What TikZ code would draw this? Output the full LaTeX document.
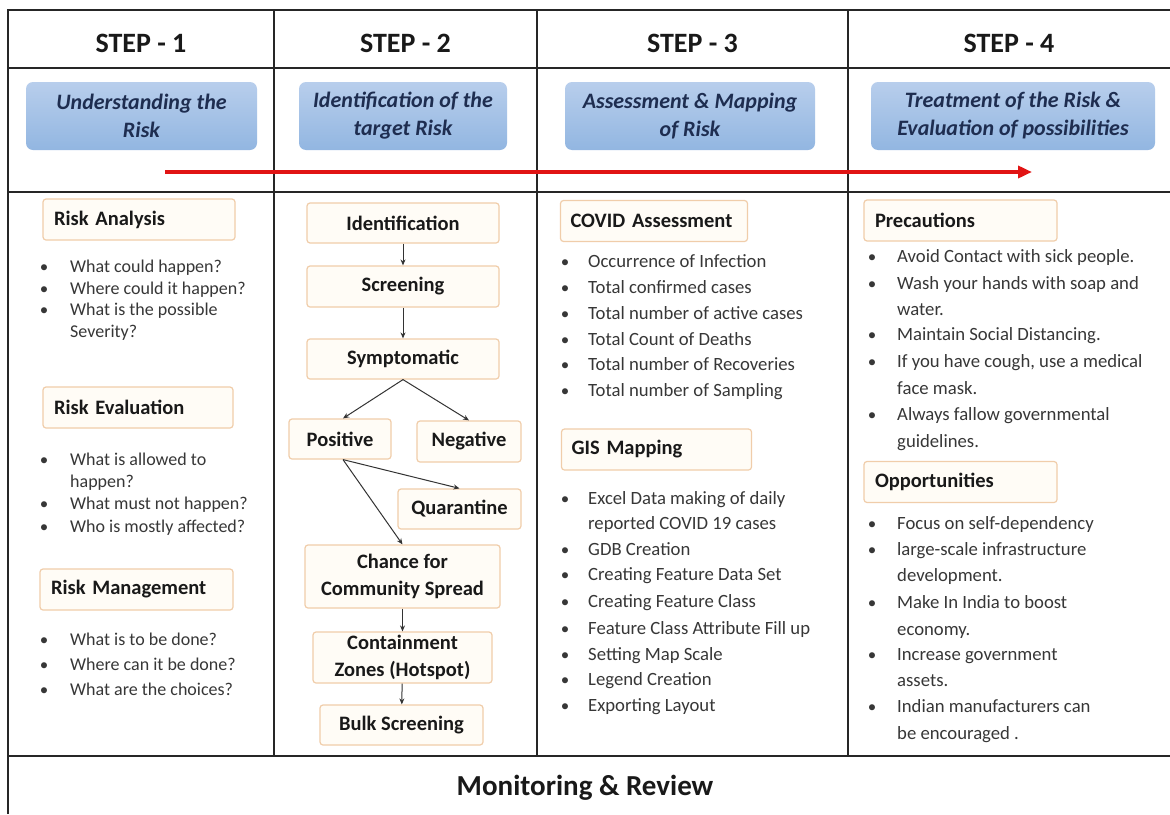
\documentclass[tikz,border=0pt]{standalone}
\usepackage{fontspec}
\setmainfont{Carlito}
\usetikzlibrary{arrows.meta}
\definecolor{hdrtop}{RGB}{184,206,236}
\definecolor{hdrbot}{RGB}{146,182,225}
\definecolor{navy}{RGB}{30,45,80}
\definecolor{boxedge}{RGB}{240,205,170}
\definecolor{boxfill}{RGB}{255,252,246}
\definecolor{txt}{RGB}{55,55,55}
\definecolor{arrred}{RGB}{225,20,20}
\newcommand\mybul[5]{\node[bul] (#1b) at (#2,#4) {\textbullet}; \node[btxt] (#1) at (#3,#4) {#5};}
\newcommand\mycont[5]{\node[btxt] (#1) at (#3,#4) {#5};}
\begin{document}
\begin{tikzpicture}[x=1pt,y=-1pt,
  frame/.style={line width=2.2pt, draw=black!85},
  steplbl/.style={font=\fontsize{28}{32}\selectfont\bfseries, text=black!90, inner sep=0pt},
  hdrbox/.style={rounded corners=7pt, top color=hdrtop, bottom color=hdrbot, draw=none,
     minimum height=68pt, font=\fontsize{22}{28}\selectfont\bfseries\itshape, text=navy, align=center},
  lbox/.style={draw=boxedge, fill=boxfill, rounded corners=3pt, line width=1.2pt,
     font=\fontsize{20.5}{27}\selectfont\bfseries, text=black!90, inner ysep=2pt},
  lboxL/.style={lbox, align=left, minimum height=41pt, inner xsep=11pt},
  fbox/.style={lbox, align=center, inner xsep=2pt},
  btxt/.style={font=\fontsize{18.7}{22}\selectfont, text=txt, inner sep=0pt, anchor=mid west},
  bul/.style={font=\fontsize{17}{22}\selectfont, text=txt, inner sep=0pt, anchor=mid},
  flow/.style={-{Stealth[length=6pt,width=5pt]}, line width=1pt, draw=black!80},
  redarr/.style={-{Triangle[length=14pt,width=12pt]}, line width=4pt, draw=arrred}
]
\useasboundingbox[fill=white] (0,0) rectangle (1170,814);

% frame
\draw[frame] (8,814) -- (8,10) -- (1170,10);
\draw[frame] (8,68) -- (1170,68);
\draw[frame] (8,192) -- (1170,192);
\draw[frame] (8,756) -- (1170,756);
\foreach \x in {274,537,848} \draw[frame] (\x,10) -- (\x,756);

% step labels
\node[steplbl] (s1) at (141,43) {STEP - 1};
\node[steplbl] (s2) at (405.5,43) {STEP - 2};
\node[steplbl] (s3) at (692.5,43) {STEP - 3};
\node[steplbl] (s4) at (1009,43) {STEP - 4};

% header boxes
\node[hdrbox, minimum width=231pt] (h1) at (141.5,116) {Understanding the\\Risk};
\node[hdrbox, minimum width=208pt] (h2) at (403,116) {Identification of the\\target Risk};
\node[hdrbox, minimum width=250pt] (h3) at (690,116) {Assessment \& Mapping\\of Risk};
\node[hdrbox, minimum width=284pt] (h4) at (1013,116) {Treatment of the Risk \&\\Evaluation of possibilities};

% red arrow
\coordinate (arrS) at (165,172);
\coordinate (arrE) at (1032,172);
\draw[redarr] (arrS) -- (arrE);

% ---------- column 1 ----------
\begin{scope}[btxt/.append style={font=\fontsize{18}{22}\selectfont}]
\node[lboxL, text width=170pt] (ra) at (139,219.5) {Risk Analysis};
\mybul{a1}{44}{70}{270}{What could happen?}
\mybul{a2}{44}{70}{292}{Where could it happen?}
\mybul{a3}{44}{70}{313}{What is the possible}
\mycont{a3c}{44}{70}{335}{Severity?}
\node[lboxL, text width=168pt] (re) at (138,407.5) {Risk Evaluation};
\mybul{e1}{44}{70}{463}{What is allowed to}
\mycont{e1c}{44}{70}{485}{happen?}
\mybul{e2}{44}{70}{507}{What must not happen?}
\mybul{e3}{44}{70}{530}{Who is mostly affected?}
\node[lboxL, text width=171pt] (rm) at (136.5,589.5) {Risk Management};
\mybul{m1}{44}{70}{643}{What is to be done?}
\mybul{m2}{44}{70}{668}{Where can it be done?}
\mybul{m3}{44}{70}{693}{What are the choices?}
\end{scope}

% ---------- column 2 ----------
\node[fbox, minimum width=192pt, minimum height=40pt] (ident) at (403,223) {Identification};
\node[fbox, minimum width=192pt, minimum height=41pt] (screen) at (403,286.5) {Screening};
\node[fbox, minimum width=192pt, minimum height=40pt] (sympt) at (403,359) {Symptomatic};
\node[fbox, minimum width=102pt, minimum height=40pt] (pos) at (340,439) {Positive};
\node[fbox, minimum width=104pt, minimum height=41pt] (neg) at (469,441.5) {Negative};
\node[fbox, minimum width=123pt, minimum height=40pt] (quar) at (459.5,509) {Quarantine};
\node[fbox, minimum width=195pt, minimum height=63pt] (chance) at (402.5,576.5) {Chance for\\Community Spread};
\node[fbox, minimum width=179pt, minimum height=51pt, inner ysep=0pt] (contain) at (402.5,657.5) {Containment\\Zones (Hotspot)};
\node[fbox, minimum width=163pt, minimum height=40pt] (bulk) at (401.5,725) {Bulk Screening};

\draw[flow] (ident) -- (screen);
\draw[flow] (screen) -- (sympt);
\draw[flow] (sympt.south) -- ([xshift=3pt]pos.north);
\draw[flow] (sympt.south) -- (neg.north);
\draw[flow] ([xshift=3pt]pos.south) -- (quar.north);
\draw[flow] ([xshift=3pt]pos.south) -- (chance.north);
\draw[flow] (chance) -- (contain);
\draw[flow] (contain) -- (bulk);

% ---------- column 3 ----------
\node[lboxL, text width=167pt, inner xsep=10pt] (covid) at (654,221) {COVID Assessment};
\mybul{c1}{565}{588}{265}{Occurrence of Infection}
\mybul{c2}{565}{588}{291}{Total confirmed cases}
\mybul{c3}{565}{588}{317}{Total number of active cases}
\mybul{c4}{565}{588}{343}{Total Count of Deaths}
\mybul{c5}{565}{588}{368}{Total number of Recoveries}
\mybul{c6}{565}{588}{394}{Total number of Sampling}
\node[lboxL, text width=170pt, inner xsep=10pt] (gis) at (656.5,449.5) {GIS Mapping};
\mybul{g1}{565}{588}{502}{Excel Data making of daily}
\mycont{g1c}{565}{588}{527}{reported COVID 19 cases}
\mybul{g2}{565}{588}{553}{GDB Creation}
\mybul{g3}{565}{588}{578}{Creating Feature Data Set}
\mybul{g4}{565}{588}{605}{Creating Feature Class}
\mybul{g5}{565}{588}{632}{Feature Class Attribute Fill up}
\mybul{g6}{565}{588}{658}{Setting Map Scale}
\mybul{g7}{565}{588}{683}{Legend Creation}
\mybul{g8}{565}{588}{709}{Exporting Layout}

% ---------- column 4 ----------
\node[lboxL, text width=171pt] (prec) at (960.5,220.5) {Precautions};
\mybul{p1}{872}{897}{260}{Avoid Contact with sick people.}
\mybul{p2}{872}{897}{287}{Wash your hands with soap and}
\mycont{p2c}{872}{897}{313}{water.}
\mybul{p3}{872}{897}{338}{Maintain Social Distancing.}
\mybul{p4}{872}{897}{365}{If you have cough, use a medical}
\mycont{p4c}{872}{897}{392}{face mask.}
\mybul{p5}{872}{897}{418}{Always fallow governmental}
\mycont{p5c}{872}{897}{445}{guidelines.}
\node[lboxL, text width=171pt] (opp) at (960.5,482) {Opportunities};
\mybul{o1}{872}{897}{527}{Focus on self-dependency}
\mybul{o2}{872}{897}{553}{large-scale infrastructure}
\mycont{o2c}{872}{897}{579}{development.}
\mybul{o3}{872}{897}{606}{Make In India to boost}
\mycont{o3c}{872}{897}{633}{economy.}
\mybul{o4}{872}{897}{658}{Increase government}
\mycont{o4c}{872}{897}{684}{assets.}
\mybul{o5}{872}{897}{710}{Indian manufacturers can}
\mycont{o5c}{872}{897}{737}{be encouraged .}

% bottom
\node[font=\fontsize{29}{33}\selectfont\bfseries, text=black!90, inner sep=0pt] (mon) at (585,788) {Monitoring \& Review};
\end{tikzpicture}
\end{document}
